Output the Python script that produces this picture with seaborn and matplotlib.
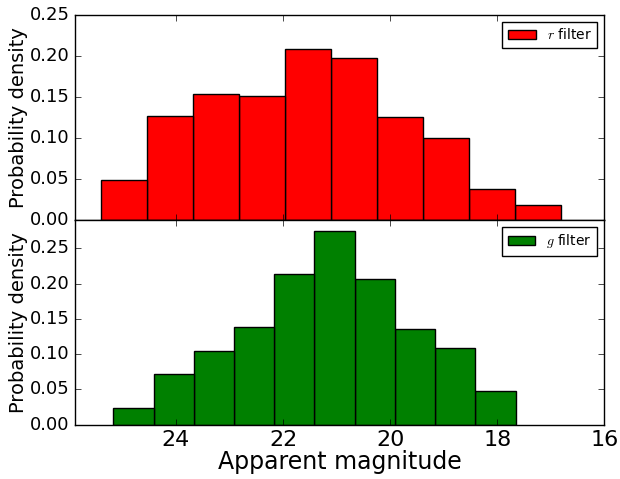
import numpy as np
import pandas as pd
import matplotlib
matplotlib.use("Agg")
import matplotlib.pyplot as plt
import seaborn as sns

# ---- data ----
r_bin_edges = [25.396, 24.537, 23.679, 22.820, 21.961, 21.103, 20.244, 19.385, 18.526, 17.668, 16.809]
r_density = [0.049, 0.126, 0.153, 0.151, 0.208, 0.197, 0.125, 0.100, 0.038, 0.018]

g_bin_edges = [25.171, 24.420, 23.668, 22.917, 22.165, 21.414, 20.663, 19.911, 19.160, 18.408, 17.657]
g_density = [0.0235, 0.0715, 0.105, 0.139, 0.2135, 0.274, 0.2065, 0.136, 0.108, 0.0475]

x_ticks = [24, 22, 20, 18, 16]
y_ticks = [0.00, 0.05, 0.10, 0.15, 0.20, 0.25]

plt.style.use("classic")
plt.rcParams.update({
    "figure.facecolor": "white",
    "savefig.facecolor": "white",
    "font.family": ["DejaVu Sans"],
    "xtick.labelsize": 16,
    "ytick.labelsize": 13,
})


def hist_frame(edges, dens):
    e = np.asarray(edges)
    centers = (e[:-1] + e[1:]) / 2.0
    return pd.DataFrame({"mag": centers, "dens": dens})


fig = plt.figure(figsize=(6.2, 4.79), dpi=100)
fig.subplots_adjust(left=0.121, right=0.9747, top=0.969, bottom=0.1134, hspace=0)
ax1 = fig.add_subplot(2, 1, 1)
ax2 = fig.add_subplot(2, 1, 2, sharex=ax1)

for ax, edges, dens, color, lab, ymax in [
    (ax1, r_bin_edges, r_density, "red", "$r$ filter", 0.25),
    (ax2, g_bin_edges, g_density, "green", "$g$ filter", 0.2905),
]:
    df = hist_frame(edges, dens)
    sns.histplot(data=df, x="mag", weights="dens", bins=sorted(edges), stat="count",
                 color=color, edgecolor="black", linewidth=1.0, alpha=1.0,
                 label=lab, ax=ax)
    ax.set_ylim(0, ymax)
    ax.set_yticks(y_ticks)
    ax.set_ylabel("Probability density", fontsize=14, labelpad=1)
    ax.set_xlabel("")
    ax.tick_params(direction="in", top=True, right=True, length=4)
    leg = ax.legend(loc="upper right", fontsize=10, frameon=True, fancybox=False,
                    borderaxespad=0.5, handlelength=2.0)
    leg.get_frame().set_edgecolor("black")

ax1.set_xlim(25.886, 16)
ax2.set_xticks(x_ticks)
ax1.tick_params(labelbottom=False)
ax2.set_xlabel("Apparent magnitude", fontsize=17, labelpad=0)

fig.savefig("out.png", dpi=100)
